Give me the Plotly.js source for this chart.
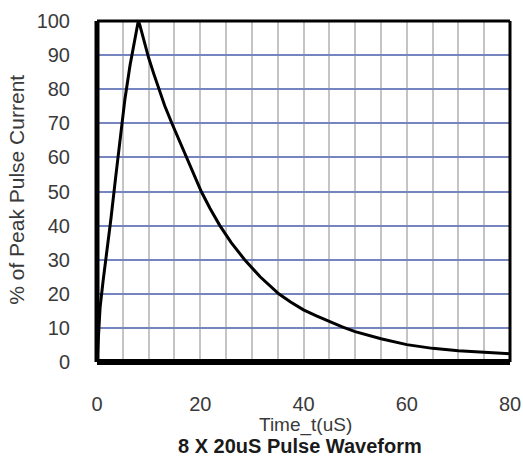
<!DOCTYPE html>
<html>
<head>
<meta charset="utf-8">
<script src="https://cdn.plot.ly/plotly-3.0.1.min.js"></script>
<style>html,body{margin:0;padding:0;background:#fff;}#chart{width:523px;height:457px;}</style>
</head>
<body>
<div id="chart"></div>
<script>
// Time (uS)
var timeUs = [0,0.3,0.6,1.2,1.9,2.7,3.6,4.5,5.4,6.4,7.2,7.7,8,8.3,
  9,10,11,12,13.1,14.5,15.9,17.3,18.7,20.2,21.9,23.8,26,28.6,31.6,35.2,37.5,40,42.5,45,47.5,50,55,60,65,70,75,80];
// % of peak pulse current
var pctPeak = [0,8,16,24,32,42,54,65.5,77,87,94,98.4,100,98.8,
  94.5,89.2,84.5,80,75.2,70,65,60,55,50,45,40,35,30,25,20,17.6,15.3,13.5,11.8,10.3,8.9,6.8,5.1,4.0,3.3,2.8,2.4];
var xTickVals = [0,20,40,60,80];
var xTickText = ['0','20','40','60','80'];
var yTickVals = [0,10,20,30,40,50,60,70,80,90,100];
var yTickText = ['0','10','20','30','40','50','60','70','80','90','100'];

var font = 'Liberation Sans, Arial, sans-serif';
var trace = {
  x: timeUs, y: pctPeak, type: 'scatter', mode: 'lines',
  line: {color: '#000', width: 3}, hoverinfo: 'skip'
};
var layout = {
  width: 523, height: 457,
  margin: {l: 97, r: 13, t: 21, b: 95},
  paper_bgcolor: '#fff', plot_bgcolor: '#fff',
  showlegend: false,
  font: {family: font, size: 20, color: '#3a3a3a'},
  xaxis: {
    range: [0, 80], tickvals: xTickVals, ticktext: xTickText,
    showgrid: true, gridcolor: '#c4c4c4', gridwidth: 2,
    minor: {dtick: 5, showgrid: true, gridcolor: '#c4c4c4', gridwidth: 2},
    zeroline: false, showline: false,
    ticks: 'outside', ticklen: 24, tickcolor: 'rgba(0,0,0,0)',
    tickfont: {family: font, size: 20, color: '#3a3a3a'}
  },
  yaxis: {
    range: [0, 100], tickvals: yTickVals, ticktext: yTickText,
    showgrid: true, gridcolor: '#7585c0', gridwidth: 2,
    zeroline: false, showline: false,
    ticks: 'outside', ticklen: 22, tickcolor: 'rgba(0,0,0,0)',
    tickfont: {family: font, size: 20, color: '#3a3a3a'}
  },
  shapes: [
    {type: 'line', xref: 'paper', yref: 'paper', x0: 0, x1: 1, y0: 1, y1: 1, line: {color: '#000', width: 3}},
    {type: 'line', xref: 'paper', yref: 'paper', x0: 1, x1: 1, y0: 0, y1: 1, line: {color: '#000', width: 3}},
    {type: 'line', xref: 'paper', yref: 'paper', x0: 0, x1: 0, y0: 0, y1: 1, line: {color: '#000', width: 5}},
    {type: 'line', xref: 'paper', yref: 'paper', x0: 0, x1: 1, y0: 0, y1: 0, line: {color: '#000', width: 6}}
  ],
  annotations: [
    {text: '% of Peak Pulse Current', xref: 'paper', yref: 'paper', x: -0.1937, y: 0.505,
     xanchor: 'center', yanchor: 'middle', textangle: -90, showarrow: false,
     font: {family: font, size: 21, color: '#3a3a3a'}},
    {text: 'Time_t(uS)', xref: 'paper', yref: 'paper', x: 0.504, y: -0.1848,
     xanchor: 'center', yanchor: 'middle', showarrow: false,
     font: {family: font, size: 19, color: '#3a3a3a'}},
    {text: '<b>8 X 20uS Pulse Waveform</b>', xref: 'paper', yref: 'paper', x: 0.4915, y: -0.2478,
     xanchor: 'center', yanchor: 'middle', showarrow: false,
     font: {family: font, size: 20, color: '#1a1a1a'}}
  ]
};
Plotly.newPlot('chart', [trace], layout, {displayModeBar: false, staticPlot: true});
</script>
</body>
</html>
